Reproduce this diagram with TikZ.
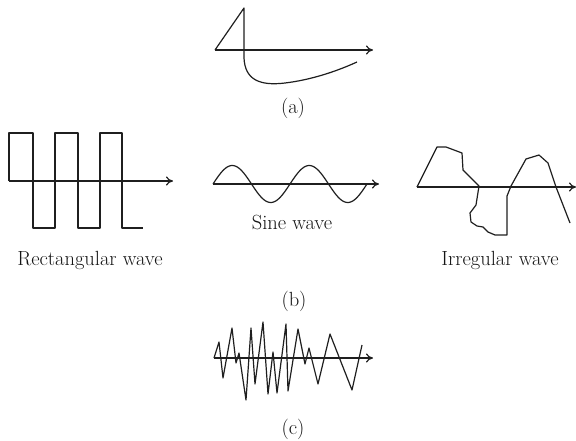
\documentclass[tikz,border=0pt]{standalone}
\usetikzlibrary{arrows.meta}
\begin{document}
\begin{tikzpicture}[x=1pt,y=-1pt,
  wave/.style={line width=1.2pt,line join=round,black!88},
  axis/.style={line width=1.2pt,black!88,-{To[length=7pt,width=9pt,line width=1.2pt]}},
  lbl/.style={font=\fontsize{20.5}{24}\selectfont,text=black!92,anchor=base,inner sep=0pt}]
\useasboundingbox (0,0) rectangle (576,440);
% (a)
\coordinate (a0) at (215,50); \coordinate (a1) at (373,50);
\draw[axis] (a0) -- (a1);
\draw[wave] (a0) -- (244,8) -- (244,58) .. controls (245,80) and (260,86) .. (285,83) .. controls (310,80) and (335,72) .. (357,62);
\node[lbl] (la) at (293,113) {(a)};
% rectangular
\coordinate (r0) at (9,181); \coordinate (r1) at (173,181);
\draw[axis] (r0) -- (r1);
\draw[wave] (r0) -- (9,133) -- (33,133) -- (33,228) -- (55,228) -- (55,133) -- (78,133) -- (78,228) -- (100,228) -- (100,133) -- (122,133) -- (122,228) -- (143,228);
\node[lbl] (lr) at (90,265) {Rectangular wave};
% sine
\coordinate (s0) at (213,184); \coordinate (s1) at (379,184);
\draw[axis] (s0) -- (s1);
\draw[wave,domain=0:720,samples=120,smooth] plot ({213+\x*0.21389},{184-18.5*sin(\x)});
\node[lbl] (ls) at (292,229) {Sine wave};
% irregular
\coordinate (i0) at (417,187); \coordinate (i1) at (576,187);
\draw[axis] (i0) -- (i1);
\draw[wave] (i0) -- (437,147) -- (446,147) -- (462,153) -- (463,170) -- (479,186) -- (476,205) -- (470,213) -- (471,222) -- (477,226) -- (483,227) -- (488,232) -- (495,235) -- (507,235) -- (507,196) -- (511,186) -- (526,159) -- (539,155) -- (548,163) -- (556,187) -- (570,223);
\node[lbl] (li) at (500,265) {Irregular wave};
\node[lbl] (lb) at (294,306) {(b)};
% (c)
\coordinate (c0) at (214,358); \coordinate (c1) at (373,358);
\draw[axis] (c0) -- (c1);
\draw[wave] (c0) -- (219,342) -- (223,378) -- (232,328) -- (236,363) -- (239,353) -- (246,400) -- (251,328) -- (255,384) -- (263,322) -- (268,394) -- (273,352) -- (277,393) -- (286,324) -- (288,391) -- (298,329) -- (305,364) -- (309,348) -- (318,384) -- (330,334) -- (352,390) -- (362,345);
\node[lbl] (lc) at (293,434) {(c)};
\end{tikzpicture}
\end{document}
